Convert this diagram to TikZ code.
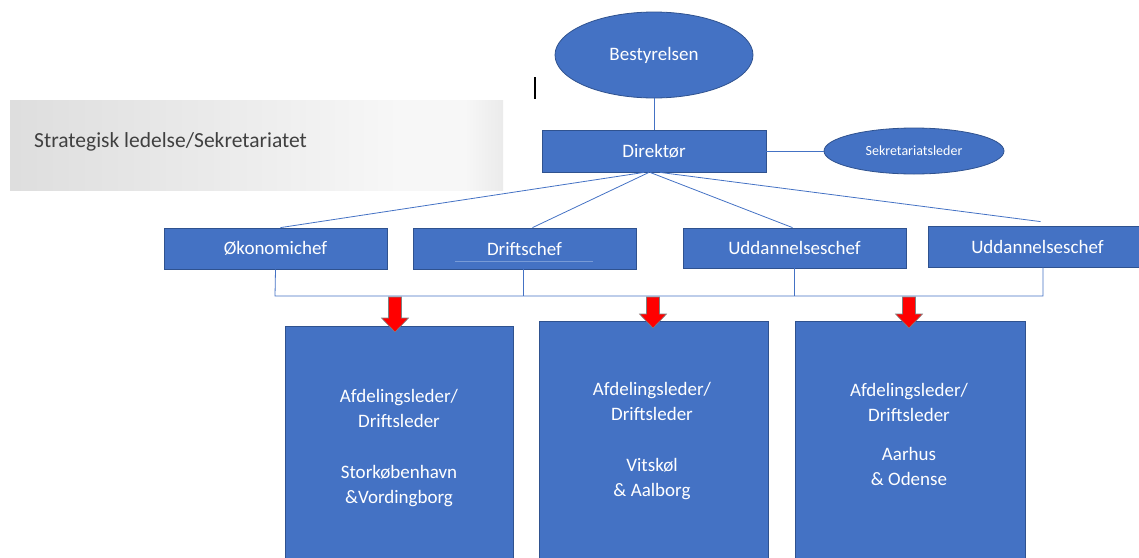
\documentclass[tikz,border=0pt]{standalone}
\usepackage{fontspec}
\setmainfont{Carlito}
\usetikzlibrary{shapes.geometric,calc}
\definecolor{obl}{HTML}{4472C4}
\definecolor{obd}{HTML}{2F528F}
\definecolor{txg}{HTML}{404040}
\pgfdeclarehorizontalshading{bannershade}{100bp}{
  color(0bp)=(black!13); color(25bp)=(black!13); color(50bp)=(black!7);
  color(65bp)=(black!3); color(71bp)=(black!3); color(75bp)=(black!8); color(100bp)=(black!8)}
\tikzset{
  box/.style={rectangle, fill=obl, draw=obd, line width=0.8pt, inner sep=0pt, text=white, font=\fontsize{19}{25}\selectfont},
  oval/.style={ellipse, fill=obl, draw=obd, line width=0.8pt, inner sep=0pt, text=white, font=\fontsize{19}{25}\selectfont},
  wtext/.style={text=white, align=center, font=\fontsize{19}{25}\selectfont},
  conn/.style={draw=obl, line width=0.8pt},
  redarr/.style={fill=red, draw=black!50, line width=0.6pt, line join=miter},
}
\begin{document}
\begin{tikzpicture}[x=1pt,y=-1pt]
\useasboundingbox (0,0) rectangle (1139,557);
% gray banner
\node[rectangle, minimum width=493pt, minimum height=90pt, inner sep=0pt,
      shading=bannershade, draw=none] (banner) at (256.5,145) {};
\node[anchor=west, text=txg, font=\fontsize{21.5}{25}\selectfont, inner sep=0pt] (bantext) at (34,142) {Strategisk ledelse/Sekretariatet};
% cursor mark
\coordinate (cur1) at (535,77);
\coordinate (cur2) at (535,99);
\draw[black, line width=1.2pt] (cur1) -- (cur2);
% top
\node[oval, minimum width=198pt, minimum height=86pt] (best) at (654,55) {Bestyrelsen};
\node[box, minimum width=224pt, minimum height=42pt] (dir) at (654,151) {Direktør};
\node[oval, minimum width=180pt, minimum height=46pt, font=\fontsize{14}{17}\selectfont] (sek) at (914,151) {Sekretariatsleder};
\draw[conn] (best.south) -- (dir.north);
\draw[conn] (dir.east) -- (sek.west);
% level 2
\node[box, minimum width=223pt, minimum height=41pt] (oko) at (275.5,248.5) {Økonomichef};
\node[box, minimum width=223pt, minimum height=41pt] (drift) at (524.5,248.5) {Driftschef};
\node[box, minimum width=223pt, minimum height=40pt] (udd1) at (794.5,248) {Uddannelseschef};
\node[box, minimum width=213pt, minimum height=41pt, text width=210pt, align=center] (udd2) at (1034.5,246.5) {\hspace*{6pt}Uddannelseschef};
\coordinate (dline1) at (455,261);
\coordinate (dline2) at (593,261);
\draw[draw={rgb,255:red,120;green,155;blue,215}, line width=0.6pt] (dline1) -- (dline2);
% lines from director
\draw[conn] ($(dir.south)+(-10,0)$) -- ($(oko.north)+(5,0)$);
\draw[conn] ($(dir.south)+(-5,0)$) -- ($(drift.north)+(8,0)$);
\draw[conn] ($(dir.south)+(-4,0)$) -- ($(udd1.north)+(-2,0)$);
\draw[conn] ($(dir.south)+(6,0)$) -- ($(udd2.north)+(6,-4)$);
% bottom bus
\coordinate (busL) at (275,296);
\coordinate (busR) at (1043,296);
\draw[conn] (oko.south) -- (busL) -- (busR) -- (udd2.south -| busR);
\draw[conn] ($(drift.south)+(-1.5,0)$) -- ++(0,27);
\draw[conn] (udd1.south) -- (udd1.south |- busL);
% bottom boxes
\node[box, minimum width=228pt, minimum height=236pt, anchor=north west] (b1) at (285,326) {};
\node[box, minimum width=229pt, minimum height=241pt, anchor=north west] (b2) at (539,321) {};
\node[box, minimum width=230pt, minimum height=241pt, anchor=north west] (b3) at (795,321) {};
\node[wtext] (t1) at (399,448.5) {Afdelingsleder/\\Driftsleder\\[26pt]Storkøbenhavn\\\&Vordingborg};
\node[wtext] (t2) at (652,441) {Afdelingsleder/\\Driftsleder\\[26pt]Vitskøl\\\& Aalborg};
\node[wtext] (t3) at (909,434.5) {Afdelingsleder/\\Driftsleder\\[14pt]Aarhus\\\& Odense};
% red arrows
\foreach \xx/\tip in {395/332, 653/328, 909/328} {
  \draw[redarr] (\xx-6.5,297) -- (\xx+6.5,297) -- (\xx+6.5,\tip-14) -- (\xx+13.5,\tip-14)
     -- (\xx,\tip) -- (\xx-13.5,\tip-14) -- (\xx-6.5,\tip-14) -- cycle;
}
\end{tikzpicture}
\end{document}
